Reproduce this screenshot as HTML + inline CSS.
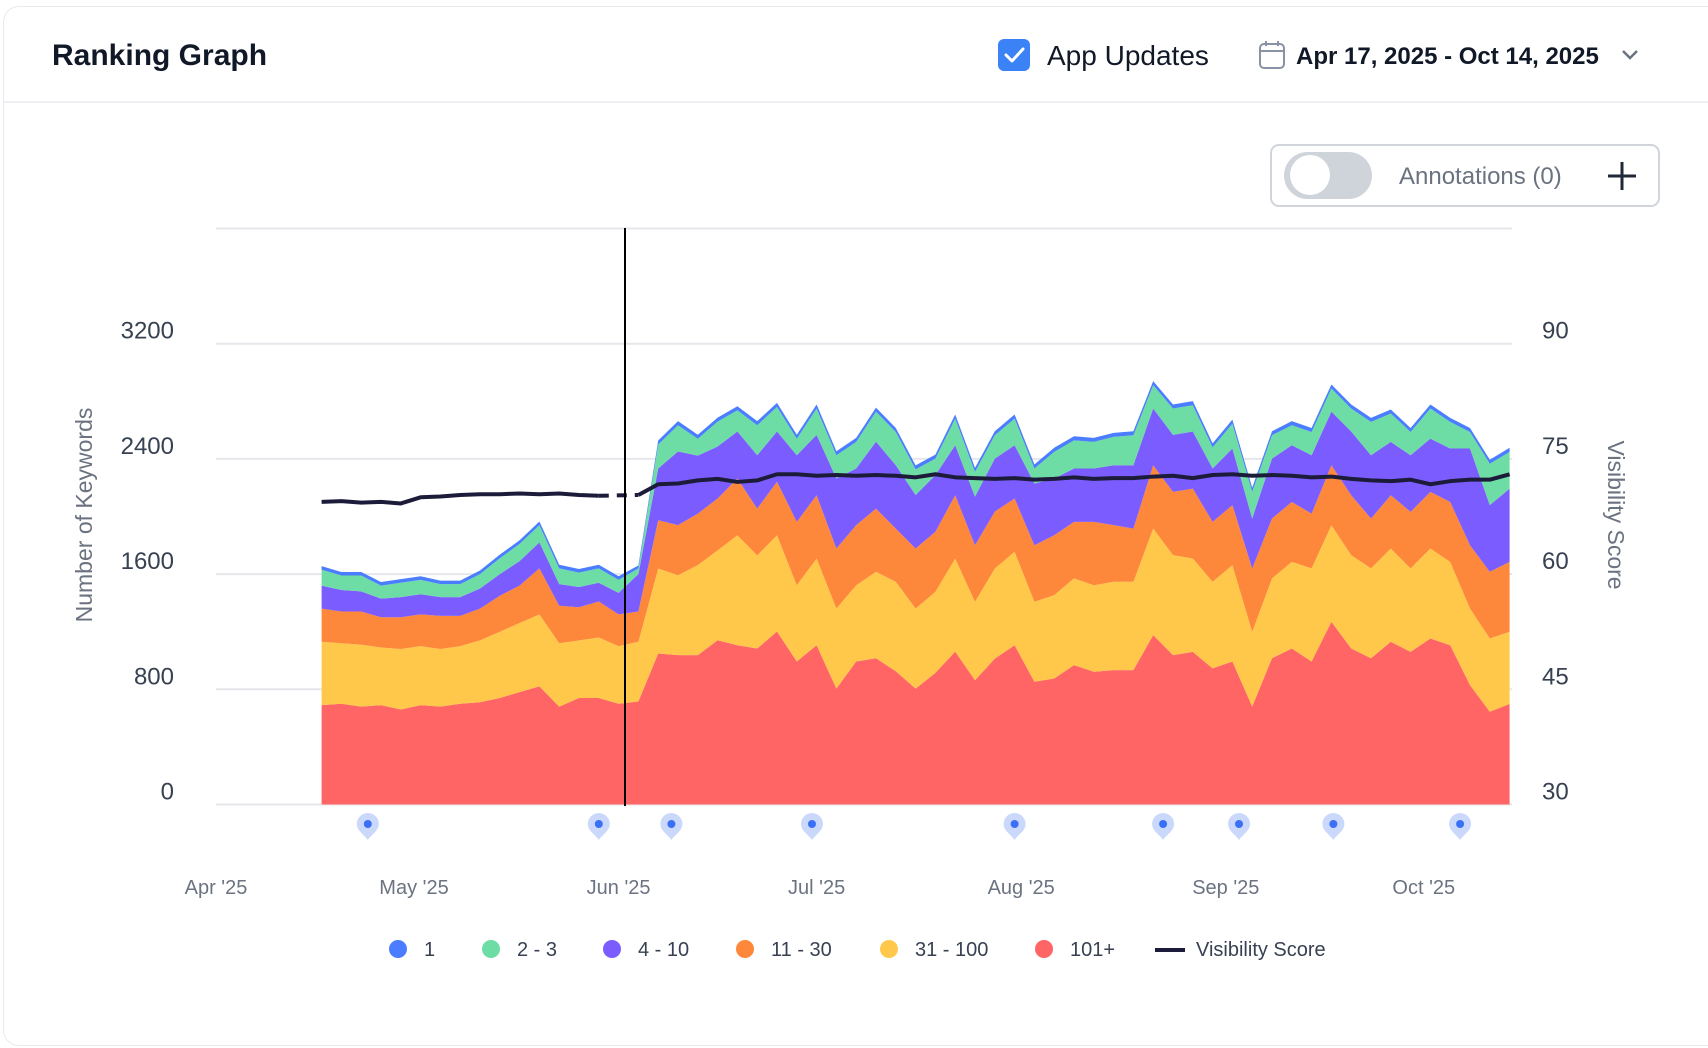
<!DOCTYPE html>
<html><head><meta charset="utf-8">
<style>
body{margin:0;background:#fff;width:1708px;height:1048px;overflow:hidden;font-family:"Liberation Sans",sans-serif;}
#card{position:absolute;left:3px;top:6px;width:1720px;height:1038px;border:1px solid #e8eaee;border-radius:16px;background:#fff;}
svg{position:absolute;left:0;top:0;}
</style></head><body>
<div id="card"></div>
<svg id="chart" width="1708" height="1048">
  <line x1="4" y1="102" x2="1708" y2="102" stroke="#eef0f3" stroke-width="2"/>
  <text x="52" y="65" font-size="30" font-weight="600" fill="#111827">Ranking Graph</text>
  <g>
    <rect x="998" y="39" width="32" height="32" rx="6" fill="#3b82f6"/>
    <path d="M1006 55 l6 6 l11 -12" stroke="#fff" stroke-width="3" fill="none" stroke-linecap="round" stroke-linejoin="round"/>
  </g>
  <text x="1047" y="65" font-size="28" font-weight="500" fill="#111827">App Updates</text>
  <g stroke="#8a93a5" stroke-width="2" fill="none">
    <rect x="1260" y="44" width="24" height="24" rx="4"/>
    <line x1="1260" y1="51" x2="1284" y2="51"/>
    <line x1="1266" y1="41" x2="1266" y2="46"/><line x1="1278" y1="41" x2="1278" y2="46"/>
  </g>
  <text x="1296" y="64" font-size="24" font-weight="600" fill="#111827">Apr 17, 2025 - Oct 14, 2025</text>
  <path d="M1623 51 l7 7 l7 -7" stroke="#6b7280" stroke-width="2.5" fill="none"/>
  <rect x="1271" y="145" width="388" height="61" rx="8" fill="#fff" stroke="#d1d5db" stroke-width="2"/>
  <g>
    <rect x="1284" y="152" width="88" height="47" rx="23.5" fill="#cfd4db"/>
    <circle cx="1310" cy="175" r="20" fill="#fff"/>
  </g>
  <text x="1399" y="184" font-size="24" fill="#6b7280">Annotations (0)</text>
  <g stroke="#1f2937" stroke-width="3">
    <line x1="1622" y1="162" x2="1622" y2="190"/><line x1="1608" y1="176" x2="1636" y2="176"/>
  </g>
  <g id="grid"></g><g id="areas"></g><g id="vis"></g><g id="axes"></g><g id="markers"></g><g id="legend"></g>
  <line x1="625" y1="228" x2="625" y2="806" stroke="#000" stroke-width="2"/>
  <text transform="translate(92,515) rotate(-90)" text-anchor="middle" font-size="23" fill="#6b7280">Number of Keywords</text>
  <text transform="translate(1608,515) rotate(90)" text-anchor="middle" font-size="23" fill="#6b7280">Visibility Score</text>
</svg>
<script>
const days=[0,3,6,9,12,15,18,21,24,27,30,33,36,39,42,45,48,51,54,57,60,63,66,69,72,75,78,81,84,87,90,93,96,99,102,105,108,111,114,117,120,123,126,129,132,135,138,141,144,147,150,153,156,159,162,165,168,171,174,177,180];
const s101=[690,700,680,690,660,690,680,700,710,740,780,820,680,740,740,700,715,1049,1037,1037,1141,1106,1083,1201,993,1106,805,993,1016,925,805,914,1062,863,1013,1106,852,875,968,922,933,933,1176,1037,1060,945,993,680,1016,1083,993,1269,1083,1016,1130,1060,1153,1106,829,644,699];
const s31=[440,420,430,400,420,410,400,400,430,460,480,500,440,400,420,400,415,590,555,625,624,764,647,669,530,602,556,530,600,622,556,563,646,545,626,649,556,579,602,601,614,614,741,695,648,602,669,520,554,602,647,670,649,624,648,580,625,579,532,509,501];
const s11=[230,220,230,210,220,220,230,210,220,250,260,320,260,230,250,220,210,335,348,358,360,394,325,371,440,440,417,417,439,369,417,417,440,392,395,370,392,416,393,440,393,369,439,439,486,416,417,439,416,416,380,417,416,346,370,392,393,416,439,463,485];
const s4=[160,150,140,130,140,140,130,130,140,150,170,180,150,140,130,150,260,359,511,403,361,326,370,349,462,419,486,393,465,440,371,393,347,338,368,370,429,394,370,370,416,440,394,396,396,370,393,347,416,394,405,372,442,439,370,393,370,371,672,463,509];
const s2=[110,100,110,90,100,100,90,90,100,110,120,120,110,100,100,90,40,167,183,117,173,148,209,171,115,183,161,185,208,231,178,115,185,172,162,185,104,185,196,185,197,208,162,183,183,147,173,186,162,139,162,161,160,232,197,162,209,185,115,287,255];
const s1=[25,25,25,25,25,25,25,25,25,25,25,25,25,25,25,25,20,28,28,28,28,28,28,28,28,28,28,28,28,28,28,28,28,28,28,28,28,28,28,28,28,28,28,28,28,28,28,28,28,28,28,28,28,28,28,28,28,28,28,28,28];
const visScore=[69.4,69.5,69.3,69.4,69.2,70.0,70.1,70.3,70.4,70.4,70.5,70.4,70.5,70.3,70.2,null,70.3,71.7,71.8,72.2,72.4,72.0,72.2,73.0,73.0,72.8,72.9,72.8,72.9,72.8,72.6,73.0,72.6,72.5,72.4,72.5,72.3,72.4,72.6,72.4,72.5,72.5,72.7,72.8,72.5,72.9,73.0,72.8,72.9,72.8,72.6,72.7,72.4,72.2,72.1,72.3,71.7,72.1,72.3,72.3,73.0];
const leftTicks=[0,800,1600,2400,3200];
const rightTicks=[30,45,60,75,90];
const monthLabels=["Apr '25","May '25","Jun '25","Jul '25","Aug '25","Sep '25","Oct '25"];
const monthDays=[-16,14,45,75,106,137,167];
const updateDays=[7,42,53,74.3,105,127.5,139,153.3,172.5];

const NS="http://www.w3.org/2000/svg";
function mk(tag,attrs,parent){const e=document.createElementNS(NS,tag);for(const k in attrs)e.setAttribute(k,attrs[k]);parent.appendChild(e);return e;}
const X=d=>321.6+6.6*d;
const Y=v=>804.5-v*0.144;
const YR=s=>Y((s-30)/15*800);
const grid=document.getElementById('grid');
[0,800,1600,2400,3200,4000].forEach(v=>{
  const l=mk('line',{x1:216,x2:1512,y1:Y(v),y2:Y(v),stroke:'#e5e7eb','stroke-width':2},grid);
  
  
});
const series=[[s101,'#ff6565','area-101-plus'],[s31,'#ffc84b','area-31-100'],[s11,'#fd873a','area-11-30'],[s4,'#7b5cff','area-4-10'],[s2,'#6edca5','area-2-3'],[s1,'#4a7dff','area-1']];
const areas=document.getElementById('areas');
let base=days.map(()=>0);
series.forEach(([vals,col,name])=>{
  const top=base.map((b,i)=>b+vals[i]);
  let d='M'+days.map((dd,i)=>X(dd)+','+Y(top[i])).join(' L');
  for(let i=days.length-1;i>=0;i--)d+=' L'+X(days[i])+','+Y(base[i]);
  d+='Z';
  const p=mk('path',{d:d,fill:col},areas);
  
  
  base=top;
});
const vis=document.getElementById('vis');
let seg=[],segs=[];
visScore.forEach((v,i)=>{if(v===null){if(seg.length)segs.push(seg);seg=[];}else seg.push([X(days[i]),YR(v)]);});
if(seg.length)segs.push(seg);
segs.forEach(sg=>{
  const p=mk('polyline',{points:sg.map(q=>q.join(',')).join(' '),fill:'none',stroke:'#1c1c3a','stroke-width':4,'stroke-linejoin':'round'},vis);
  
  
});
for(let k=0;k<segs.length-1;k++){
  const a=segs[k][segs[k].length-1],b=segs[k+1][0];
  const p=mk('line',{x1:a[0],y1:a[1],x2:b[0],y2:b[1],stroke:'#1c1c3a','stroke-width':4,'stroke-dasharray':'10 8'},vis);
  
  
}
const axes=document.getElementById('axes');
leftTicks.forEach(v=>{
  const t=mk('text',{x:174,y:Y(v)-5,'text-anchor':'end','font-size':24,fill:'#374151'},axes);t.textContent=v;
  
  
});
rightTicks.forEach(v=>{
  const t=mk('text',{x:1542,y:YR(v)-5,'font-size':24,fill:'#374151'},axes);t.textContent=v;
  
  
});
monthLabels.forEach((m,i)=>{
  const t=mk('text',{x:X(monthDays[i]),y:894,'text-anchor':'middle','font-size':20,fill:'#6b7280'},axes);t.textContent=m;
  
  
});
const markers=document.getElementById('markers');
updateDays.forEach(d=>{
  const x=X(d);
  const g=mk('g',{},markers);
  
  
  mk('path',{d:`M${x} 840 C${x-3} 835 ${x-11} 831 ${x-11} 824 A11 11 0 1 1 ${x+11} 824 C${x+11} 831 ${x+3} 835 ${x} 840Z`,fill:'#c9d8fb'},g);
  mk('circle',{cx:x,cy:824,r:4,fill:'#3b6ff5'},g);
});
const legend=document.getElementById('legend');
const legItems=[['1','#4a7dff',398,424],['2 - 3','#6edca5',491,517],['4 - 10','#7b5cff',612,638],['11 - 30','#fd873a',745,771],['31 - 100','#ffc84b',889,915],['101+','#ff6565',1044,1070]];
legItems.forEach(([lab,col,cx,tx])=>{
  const g=mk('g',{},legend);
  
  
  mk('circle',{cx:cx,cy:949,r:9,fill:col},g);
  const t=mk('text',{x:tx,y:956,'font-size':20,fill:'#374151'},g);t.textContent=lab;
});
const lg=mk('g',{},legend);


mk('line',{x1:1155,x2:1185,y1:950,y2:950,stroke:'#1c1c3a','stroke-width':4},lg);
const lt=mk('text',{x:1196,y:956,'font-size':20,fill:'#374151'},lg);lt.textContent='Visibility Score';
</script>
</body></html>
